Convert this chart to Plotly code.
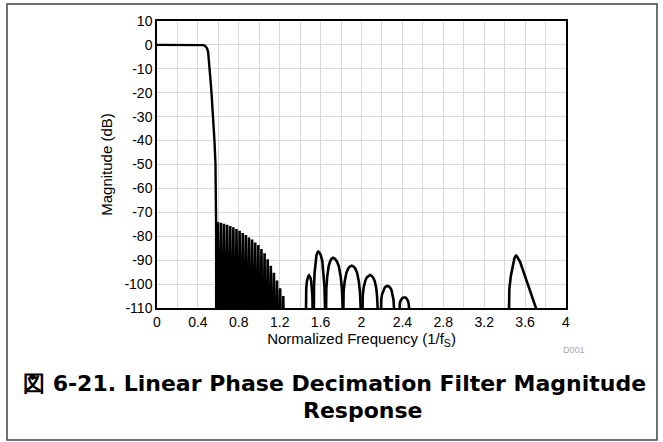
import plotly.graph_objects as go

# ---- data ----
passband_freq = [0.0, 0.1, 0.2, 0.3, 0.4, 0.43, 0.45, 0.47, 0.49, 0.50, 0.51, 0.52, 0.533, 0.549, 0.562, 0.572, 0.576, 0.578, 0.579]
passband_db = [0.0, 0.0, 0.0, 0.0, 0.0, 0.0, -0.1, -0.4, -1.5, -3.0, -7.0, -13.0, -20.0, -30.0, -40.0, -50.0, -60.0, -75.0, -130.0]

ripple_peak_freq = [0.5945, 0.625, 0.6555, 0.686, 0.7165, 0.747, 0.7775, 0.808, 0.8385, 0.869, 0.8995,
                    0.930, 0.9605, 0.991, 1.0215, 1.052, 1.0825, 1.113, 1.1435, 1.174, 1.2045, 1.235]
ripple_peak_db = [-74.0, -74.4, -74.8, -75.2, -75.7, -76.2, -77.0, -77.7, -78.6, -79.5, -80.5,
                  -81.4, -82.6, -83.7, -85.3, -87.1, -89.6, -92.3, -95.3, -98.5, -101.8, -105.0]
ripple_null_freq = [0.5795, 0.61, 0.6405, 0.671, 0.7015, 0.732, 0.7625, 0.793, 0.8235, 0.854, 0.8845, 0.915,
                    0.9455, 0.976, 1.0065, 1.037, 1.0675, 1.098, 1.1285, 1.159, 1.1895, 1.22, 1.2505]
ripple_null_db = [-150, -150, -150, -150, -150, -150, -150, -150, -150, -150, -150, -150,
                  -150, -150, -150, -150, -150, -150, -150, -150, -150, -150, -150]

lobe_a_freq = [1.452, 1.453, 1.4557, 1.4598, 1.4666, 1.4734, 1.4802, 1.487, 1.4940, 1.5010, 1.5080, 1.5150, 1.5192, 1.522, 1.523]
lobe_a_db = [-130, -110, -104.8, -101.6, -98.7, -97.4, -96.7, -96.4, -96.7, -97.4, -98.7, -101.6, -104.8, -110, -130]

lobe_b_freq = [1.531, 1.532, 1.5356, 1.541, 1.550, 1.559, 1.568, 1.577, 1.5902, 1.6034, 1.6166, 1.6298, 1.6377, 1.643, 1.644]
lobe_b_db = [-130, -110, -101.0, -95.4, -90.4, -88.1, -86.9, -86.4, -86.9, -88.1, -90.4, -95.4, -101.0, -110, -130]

lobe_c_freq = [1.649, 1.650, 1.6558, 1.6644, 1.6788, 1.6932, 1.7076, 1.722, 1.7408, 1.7596, 1.7784, 1.7972, 1.8085, 1.816, 1.817]
lobe_c_db = [-130, -110, -102.0, -97.0, -92.6, -90.5, -89.4, -89.0, -89.4, -90.5, -92.6, -97.0, -102.0, -110, -130]

lobe_d_freq = [1.817, 1.818, 1.8249, 1.8352, 1.8524, 1.8696, 1.8868, 1.904, 1.9216, 1.9392, 1.9568, 1.9744, 1.985, 1.992, 1.993]
lobe_d_db = [-130, -110, -103.3, -99.0, -95.3, -93.5, -92.65, -92.3, -92.65, -93.5, -95.3, -99.0, -103.3, -110, -130]

lobe_e_freq = [2.005, 2.006, 2.0122, 2.0214, 2.0368, 2.0522, 2.0676, 2.083, 2.098, 2.113, 2.128, 2.143, 2.152, 2.158, 2.159]
lobe_e_db = [-130, -110, -104.8, -101.4, -98.55, -97.2, -96.5, -96.2, -96.5, -97.2, -98.55, -101.4, -104.8, -110, -130]

lobe_f_freq = [2.187, 2.188, 2.1933, 2.2012, 2.2144, 2.2276, 2.2408, 2.254, 2.2668, 2.2796, 2.2924, 2.3052, 2.3129, 2.318, 2.319]
lobe_f_db = [-130, -110, -106.5, -104.3, -102.4, -101.45, -101.0, -100.8, -101.0, -101.45, -102.4, -104.3, -106.5, -110, -130]

lobe_g_freq = [2.369, 2.370, 2.3739, 2.3798, 2.3896, 2.3994, 2.4092, 2.419, 2.4282, 2.4374, 2.4466, 2.4558, 2.4613, 2.465, 2.466]
lobe_g_db = [-130, -110, -108.3, -107.2, -106.3, -105.8, -105.6, -105.5, -105.6, -105.8, -106.3, -107.2, -108.3, -110, -130]

lobe_h_freq = [3.436, 3.438, 3.446, 3.461, 3.478, 3.495, 3.505, 3.513, 3.525, 3.552, 3.59, 3.634, 3.67, 3.706, 3.71]
lobe_h_db = [-130, -110, -102, -96.5, -92, -89.3, -88.4, -88.1, -88.8, -90.8, -95.5, -101, -105.5, -110, -130]

x_tick_vals = [0, 0.4, 0.8, 1.2, 1.6, 2, 2.4, 2.8, 3.2, 3.6, 4]
x_tick_text = ["0", "0.4", "0.8", "1.2", "1.6", "2", "2.4", "2.8", "3.2", "3.6", "4"]
y_tick_vals = [10, 0, -10, -20, -30, -40, -50, -60, -70, -80, -90, -100, -110]
y_tick_text = ["10", "0", "-10", "-20", "-30", "-40", "-50", "-60", "-70", "-80", "-90", "-100", "-110"]

# ---- build the stopband ripple curve from the read peaks and nulls ----
ripple_x = []
ripple_y = []
for i in range(len(ripple_peak_freq)):
    ripple_x += [ripple_null_freq[i], ripple_peak_freq[i]]
    ripple_y += [ripple_null_db[i], ripple_peak_db[i]]
ripple_x.append(ripple_null_freq[-1])
ripple_y.append(ripple_null_db[-1])

fig = go.Figure()
fig.add_trace(go.Scatter(x=passband_freq, y=passband_db, mode="lines",
                         line=dict(color="black", width=2.4), hoverinfo="skip", showlegend=False))
fig.add_trace(go.Scatter(x=ripple_x, y=ripple_y, mode="lines",
                         line=dict(color="black", width=2.6), hoverinfo="skip", showlegend=False))

lobes = [(lobe_a_freq, lobe_a_db), (lobe_b_freq, lobe_b_db), (lobe_c_freq, lobe_c_db),
         (lobe_d_freq, lobe_d_db), (lobe_e_freq, lobe_e_db), (lobe_f_freq, lobe_f_db),
         (lobe_g_freq, lobe_g_db), (lobe_h_freq, lobe_h_db)]
for fx, fy in lobes:
    fig.add_trace(go.Scatter(x=fx, y=fy, mode="lines",
                             line=dict(color="black", width=2.6), hoverinfo="skip", showlegend=False))

font_family = "Liberation Sans, Arial, sans-serif"

fig.update_layout(
    width=663, height=442,
    margin=dict(l=157, r=97, t=21, b=134),
    paper_bgcolor="white", plot_bgcolor="white",
    font=dict(family=font_family, size=14, color="black"),
    xaxis=dict(range=[0, 4], tickvals=x_tick_vals, ticktext=x_tick_text,
               showgrid=True, gridcolor="#d9d9d9", gridwidth=1,
               minor=dict(dtick=0.2, tick0=0, showgrid=True, gridcolor="#d9d9d9", gridwidth=1),
               showline=True, linecolor="black", linewidth=1.5, mirror=True,
               ticks="", zeroline=False, tickfont=dict(size=14),
               title=dict(text="Normalized Frequency (1/f<sub>S</sub>)", font=dict(size=15), standoff=4)),
    yaxis=dict(range=[-110, 10], tickvals=y_tick_vals, ticktext=y_tick_text,
               showgrid=True, gridcolor="#d9d9d9", gridwidth=1,
               showline=True, linecolor="black", linewidth=1.5, mirror=True,
               ticks="", zeroline=False, tickfont=dict(size=14),
               title=dict(text="Magnitude (dB)", font=dict(size=15), standoff=8)),
)

# outer frame
fig.add_shape(type="rect", xref="paper", yref="paper",
              x0=(7 - 157) / 409, x1=(657 - 157) / 409,
              y0=(308 - 440) / 287, y1=(308 - 4) / 287,
              line=dict(color="#444444", width=1.5), fillcolor="rgba(0,0,0,0)", layer="above")

fig.add_annotation(text="D001", xref="paper", yref="paper",
                   x=(574 - 157) / 409, y=(308 - 350) / 287, showarrow=False,
                   font=dict(size=9, color="#a6a6a6"), xanchor="center", yanchor="middle")
cap_font = dict(family="DejaVu Sans, sans-serif", size=22, color="black")
fig.add_annotation(text="<b>図 6-21. Linear Phase Decimation Filter Magnitude</b>", xref="paper", yref="paper",
                   x=(334 - 157) / 409, y=(308 - 383) / 287, showarrow=False,
                   font=cap_font, xanchor="center", yanchor="middle")
fig.add_annotation(text="<b>Response</b>", xref="paper", yref="paper",
                   x=(363 - 157) / 409, y=(308 - 410) / 287, showarrow=False,
                   font=cap_font, xanchor="center", yanchor="middle")

fig.write_html("out.html", config={"displayModeBar": False})

# remove the browser's default body margin so the figure sits at the page origin
with open("out.html", "r", encoding="utf-8") as fh:
    html = fh.read()
html = html.replace("<body>", '<body style="margin:0;padding:0;">', 1)
with open("out.html", "w", encoding="utf-8") as fh:
    fh.write(html)
